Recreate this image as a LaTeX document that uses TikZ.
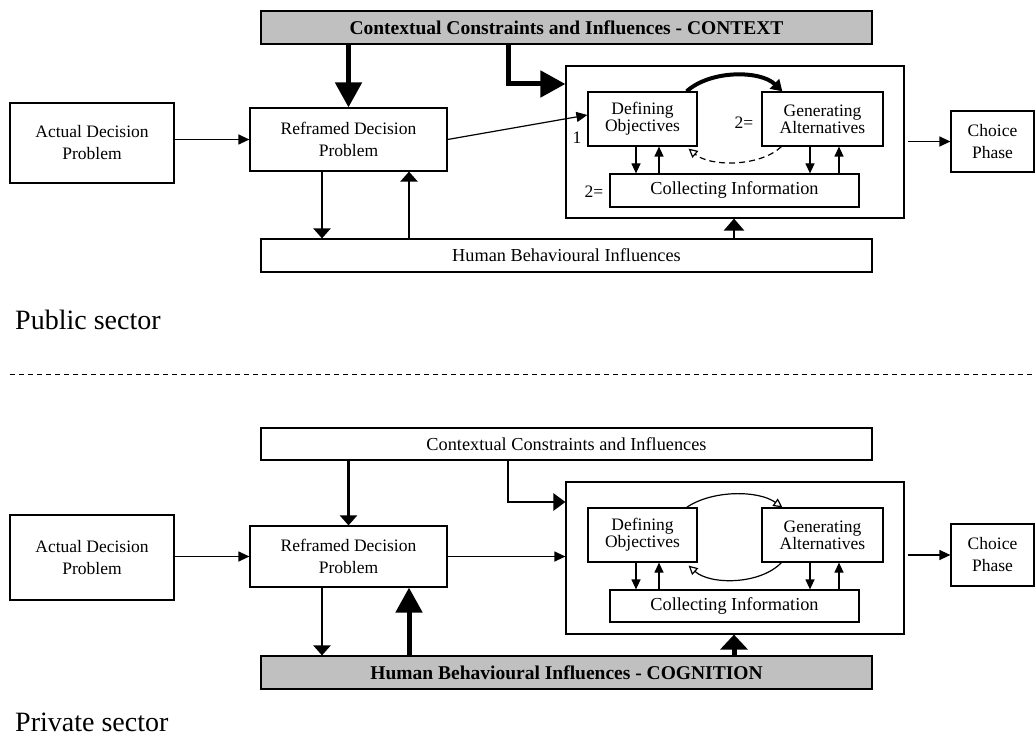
\documentclass[tikz,border=0pt]{standalone}
\usepackage{fontspec}
\setmainfont{Liberation Serif}
\usetikzlibrary{arrows.meta}
\definecolor{boxgray}{RGB}{192,192,192}
\begin{document}
\begin{tikzpicture}[x=1pt,y=-1pt,
  box/.style={draw, line width=1.2pt, inner sep=0pt, align=center, font=\fontsize{17.5}{22}\selectfont},
  widebox/.style={box, font=\fontsize{18.3}{22}\selectfont},
  tightbox/.style={box, font=\fontsize{17.5}{15.5}\selectfont},
  graybox/.style={box, fill=boxgray, font=\bfseries\fontsize{19.5}{22}\selectfont},
  lbl/.style={inner sep=0pt, font=\fontsize{17.5}{20}\selectfont},
  title/.style={inner sep=0pt, anchor=west, font=\fontsize{28}{32}\selectfont},
  thinarr/.style={line width=1.2pt, -{Triangle[length=11pt,width=10pt]}},
  smallarr/.style={line width=1.2pt, -{Triangle[length=10pt,width=9pt]}},
  medarr/.style={line width=2.5pt, -{Triangle[length=10pt,width=17pt]}},
  thickarr/.style={line width=5pt, -{Triangle[length=25pt,width=26pt]}},
  openarr/.style={line width=1.2pt, -{Triangle[open,length=9pt,width=9pt]}},
]
\useasboundingbox (0,0) rectangle (1036,738);

% ================= Public sector =================
\node[graybox, minimum width=611pt, minimum height=33pt] (ctxA) at (566.5,27.5) {Contextual Constraints and Influences - CONTEXT};
\node[box, minimum width=164pt, minimum height=80pt] (actA) at (92,143) {Actual Decision\\Problem};
\node[box, minimum width=197pt, minimum height=63pt] (refA) at (348.5,139.5) {Reframed Decision\\Problem};
\node[widebox, minimum width=611pt, minimum height=33pt] (humA) at (566.5,255.5) {Human Behavioural Influences};
\node[box, minimum width=338pt, minimum height=152pt] (contA) at (735,142) {};
\node[tightbox, minimum width=109pt, minimum height=54pt] (defA) at (642.5,119) {Defining\\Objectives};
\node[tightbox, minimum width=121pt, minimum height=54pt] (genA) at (822.5,119) {Generating\\Alternatives};
\node[widebox, minimum width=249pt, minimum height=33pt] (colA) at (734.5,190.5) {Collecting Information};
\node[box, minimum width=83pt, minimum height=61pt] (choA) at (992.5,141.5) {Choice\\Phase};
\node[lbl] (l1A) at (577,138) {1};
\node[lbl] (l2A) at (744,123) {2=};
\node[lbl] (l3A) at (594,192) {2=};

\coordinate (cA) at (508,84);
\draw[thinarr] (actA.east |- refA.west) -- (refA.west);
\draw[thickarr] (ctxA.south -| refA.north) -- (refA.north);
\draw[thickarr, line join=miter] (ctxA.south -| cA) |- (contA.west |- cA);
\draw[thinarr] (refA.east) -- ([yshift=4pt]defA.west);
\draw[medarr] (refA.south -| 322,0) -- (humA.north -| 322,0);
\draw[medarr] (humA.north -| 409,0) -- (refA.south -| 409,0);
\draw[line width=2.5pt, -{Triangle[length=12pt,width=20pt]}] (humA.north -| 734,0) -- (contA.south -| 734,0);
\draw[thinarr, shorten <=3pt] (contA.east |- choA.west) -- (choA.west);
\draw[line width=4pt, -{Triangle[length=11pt,width=13pt]}] ([xshift=-11pt]defA.north east) .. controls (710,70) and (760,70) .. ([xshift=21pt]genA.north west);
\draw[line width=1.2pt, dash pattern=on 6pt off 4pt, -{Triangle[open,length=9pt,width=9pt]}] ([xshift=20pt]genA.south west) .. controls (760,167) and (710,167) .. ([xshift=-9pt,yshift=-2pt]defA.south east);
\draw[smallarr] (defA.south -| 636,0) -- (colA.north -| 636,0);
\draw[smallarr] (colA.north -| 659,0) -- (defA.south -| 659,0);
\draw[smallarr] (genA.south -| 810,0) -- (colA.north -| 810,0);
\draw[smallarr] (colA.north -| 839,0) -- (genA.south -| 839,0);

\node[title] (pub) at (15,320) {Public sector};
\draw[line width=1pt, dash pattern=on 5pt off 4pt] (10,374) -- (1036,374);

% ================= Private sector =================
\node[widebox, minimum width=611pt, minimum height=32pt] (ctxB) at (566.5,444) {Contextual Constraints and Influences};
\node[box, minimum width=164pt, minimum height=85pt] (actB) at (92,557.5) {Actual Decision\\Problem};
\node[box, minimum width=197pt, minimum height=61pt] (refB) at (348.5,556.5) {Reframed Decision\\Problem};
\node[graybox, minimum width=611pt, minimum height=33pt] (humB) at (566.5,672.5) {Human Behavioural Influences - COGNITION};
\node[box, minimum width=338pt, minimum height=152pt] (contB) at (735,558) {};
\node[tightbox, minimum width=109pt, minimum height=54pt] (defB) at (642.5,535) {Defining\\Objectives};
\node[tightbox, minimum width=121pt, minimum height=54pt] (genB) at (822.5,535) {Generating\\Alternatives};
\node[widebox, minimum width=249pt, minimum height=32pt] (colB) at (734.5,606) {Collecting Information};
\node[box, minimum width=83pt, minimum height=62pt] (choB) at (992.5,555) {Choice\\Phase};

\coordinate (cB) at (508,502);
\draw[thinarr] (actB.east |- refB.west) -- (refB.west);
\draw[medarr] (ctxB.south -| refB.north) -- (refB.north);
\draw[line width=2.5pt, line join=miter, -{Triangle[length=12pt,width=17pt]}] (ctxB.south -| cB) |- (contB.west |- cB);
\draw[thinarr] (refB.east) -- (refB.east -| contB.west);
\draw[medarr] (refB.south -| 322,0) -- (humB.north -| 322,0);
\draw[thickarr] (humB.north -| 409,0) -- (refB.south -| 409,0);
\draw[line width=5pt, -{Triangle[length=15pt,width=27pt]}] (humB.north -| 734,0) -- (contB.south -| 734,0);
\draw[thinarr, shorten <=3pt] (contB.east |- choB.west) -- (choB.west);
\draw[openarr] ([xshift=-11pt]defB.north east) .. controls (712,490) and (758,490) .. ([xshift=21pt]genB.north west);
\draw[openarr] ([xshift=20pt]genB.south west) .. controls (760,585) and (710,585) .. ([xshift=-9pt,yshift=-3pt]defB.south east);
\draw[smallarr] (defB.south -| 636,0) -- (colB.north -| 636,0);
\draw[smallarr] (colB.north -| 659,0) -- (defB.south -| 659,0);
\draw[smallarr] (genB.south -| 810,0) -- (colB.north -| 810,0);
\draw[smallarr] (colB.north -| 839,0) -- (genB.south -| 839,0);

\node[title] (priv) at (15,722) {Private sector};
\end{tikzpicture}
\end{document}
